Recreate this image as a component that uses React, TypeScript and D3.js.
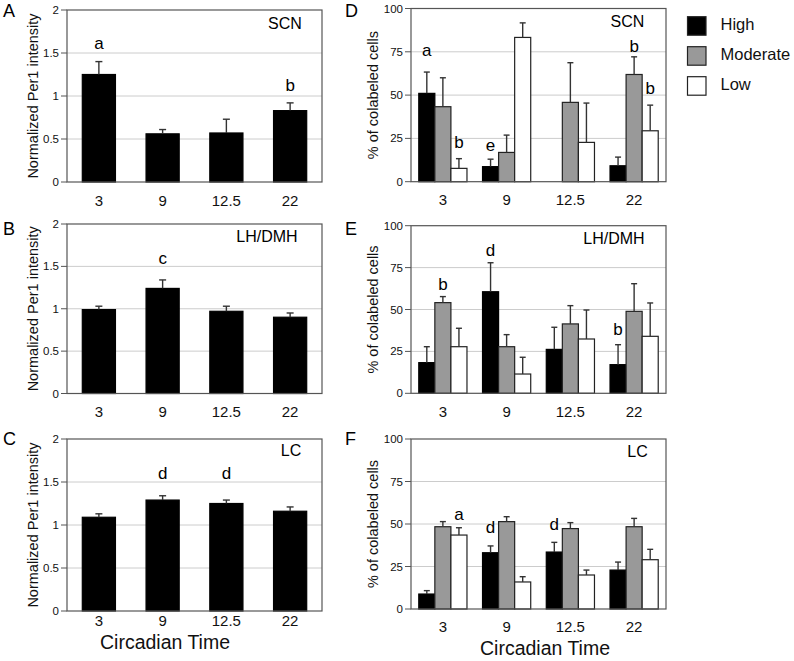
import React from "react";
import * as d3 from "d3";

// ---------- Data ----------
const categories = ["3", "9", "12.5", "22"];
const seriesNames = ["High", "Moderate", "Low"];
const seriesFill = ["#000000", "#999999", "#ffffff"];

// Normalized Per1 intensity (left column)
const per1SCN = [1.25, 0.56, 0.57, 0.83];
const per1SCNErr = [0.15, 0.05, 0.16, 0.09];
const per1LH = [0.99, 1.24, 0.97, 0.9];
const per1LHErr = [0.04, 0.1, 0.06, 0.05];
const per1LC = [1.09, 1.29, 1.25, 1.16];
const per1LCErr = [0.04, 0.05, 0.04, 0.05];

// % of colabeled cells (right column) : [High, Moderate, Low]
const colSCN = [
  [51, 8.7, 0, 9.2],
  [43.3, 16.9, 45.8, 61.9],
  [7.7, 83.3, 22.7, 29.4],
];
const colSCNErr = [
  [12.3, 4.3, 0, 5],
  [16.7, 10, 22.9, 10.2],
  [5.6, 8.4, 22.7, 14.8],
];
const colLH = [
  [18.3, 60.6, 26.2, 17.1],
  [54.1, 27.8, 41.4, 48.9],
  [27.8, 11.5, 32.4, 34],
];
const colLHErr = [
  [9.5, 17.3, 13.2, 11.9],
  [3.6, 7.2, 10.9, 16.5],
  [11, 10, 17.3, 19.9],
];
const colLC = [
  [8.8, 33.1, 33.5, 22.9],
  [48.4, 51.4, 47.3, 48.4],
  [43.5, 15.9, 20, 29],
];
const colLCErr = [
  [2, 4, 5.7, 4.7],
  [3, 2.9, 3.5, 4.9],
  [4.3, 3.1, 2.9, 6.1],
];

// Significance letters: category, series index, letter, baseline value (data units)
const lettersA = [
  { cat: "3", s: 0, letter: "a", at: 1.55 },
  { cat: "22", s: 0, letter: "b", at: 1.06 },
];
const lettersB = [{ cat: "9", s: 0, letter: "c", at: 1.53 }];
const lettersC = [
  { cat: "9", s: 0, letter: "d", at: 1.53 },
  { cat: "12.5", s: 0, letter: "d", at: 1.53 },
];
const lettersD = [
  { cat: "3", s: 0, letter: "a", at: 72.5 },
  { cat: "3", s: 2, letter: "b", at: 19.7 },
  { cat: "9", s: 0, letter: "e", at: 18 },
  { cat: "22", s: 1, letter: "b", at: 74.8 },
  { cat: "22", s: 2, letter: "b", at: 50.6 },
];
const lettersE = [
  { cat: "3", s: 1, letter: "b", at: 61.6 },
  { cat: "9", s: 0, letter: "d", at: 82 },
  { cat: "22", s: 0, letter: "b", at: 34.8 },
];
const lettersF = [
  { cat: "3", s: 2, letter: "a", at: 52.4 },
  { cat: "9", s: 0, letter: "d", at: 45 },
  { cat: "12.5", s: 0, letter: "d", at: 46.2 },
];

const per1Ticks = [0, 0.5, 1, 1.5, 2];
const per1TickLabels = ["0", "0.5", "1", "1.5", "2"];
const colTicks = [0, 25, 50, 75, 100];
const colTickLabels = ["0", "25", "50", "75", "100"];

const FONT = "'Liberation Sans', Arial, Helvetica, sans-serif";

type Letter = { cat: string; s: number; letter: string; at: number };

type PanelProps = {
  panelLetter: string;
  region: string;
  left: number;
  right: number;
  top: number;
  bottom: number;
  yMax: number;
  ticks: number[];
  tickLabels: string[];
  yLabel: string;
  values: number[][];
  errors: number[][];
  fills: string[];
  letters: Letter[];
  grouped: boolean;
  xLabelOffset: number;
  regionX: number;
  regionY: number;
  letterX: number;
  letterY: number;
  yLabelX: number;
};

function Panel(p: PanelProps) {
  const y = d3.scaleLinear().domain([0, p.yMax]).range([p.bottom, p.top]);
  const inner = p.grouped ? 0.244 : 0.48;
  const x = d3
    .scaleBand<string>()
    .domain(categories)
    .range([p.left, p.right])
    .paddingInner(inner)
    .paddingOuter(inner / 2);
  const nS = p.values.length;
  const xs = d3
    .scaleBand<number>()
    .domain(d3.range(nS))
    .range([0, x.bandwidth()]);
  const cap = p.grouped ? 6 : 7;

  return (
    <g>
      {/* gridlines */}
      {p.ticks
        .filter((t) => t > 0 && t < p.yMax)
        .map((t) => (
          <line
            key={"g" + t}
            x1={p.left}
            x2={p.right}
            y1={y(t)}
            y2={y(t)}
            stroke="#cccccc"
            strokeWidth={1}
          />
        ))}
      {/* bars */}
      {p.values.map((ser, si) =>
        ser.map((v, ci) => {
          if (v <= 0) return null;
          const bx = (x(categories[ci]) as number) + (xs(si) as number);
          return (
            <rect
              key={"b" + si + "-" + ci}
              x={bx}
              y={y(v)}
              width={xs.bandwidth()}
              height={p.bottom - y(v)}
              fill={p.fills[si]}
              stroke={p.fills[si] === "#000000" ? "#000" : "#222"}
              strokeWidth={1.2}
            />
          );
        })
      )}
      {/* error bars */}
      {p.values.map((ser, si) =>
        ser.map((v, ci) => {
          const e = p.errors[si][ci];
          if (v <= 0 || e <= 0) return null;
          const cx = (x(categories[ci]) as number) + (xs(si) as number) + xs.bandwidth() / 2;
          return (
            <g key={"e" + si + "-" + ci} stroke="#333" strokeWidth={1.4}>
              <line x1={cx} x2={cx} y1={y(v)} y2={y(v + e)} />
              <line x1={cx - cap / 2} x2={cx + cap / 2} y1={y(v + e)} y2={y(v + e)} />
            </g>
          );
        })
      )}
      {/* frame */}
      <rect
        x={p.left}
        y={p.top}
        width={p.right - p.left}
        height={p.bottom - p.top}
        fill="none"
        stroke="#555"
        strokeWidth={1.2}
      />
      {/* y ticks */}
      {p.ticks.map((t, i) => (
        <g key={"t" + t}>
          <line x1={p.left - 6} x2={p.left} y1={y(t)} y2={y(t)} stroke="#555" strokeWidth={1} />
          <text
            x={p.left - 8}
            y={y(t) + 4}
            textAnchor="end"
            fontSize={11.5}
            fontFamily={FONT}
            fill="#111"
          >
            {p.tickLabels[i]}
          </text>
        </g>
      ))}
      {/* x tick labels */}
      {categories.map((c) => (
        <text
          key={"x" + c}
          x={(x(c) as number) + x.bandwidth() / 2}
          y={p.bottom + p.xLabelOffset}
          textAnchor="middle"
          fontSize={15}
          fontFamily={FONT}
          fill="#111"
        >
          {c}
        </text>
      ))}
      {/* significance letters */}
      {p.letters.map((l, i) => (
        <text
          key={"l" + i}
          x={(x(l.cat) as number) + (xs(l.s) as number) + xs.bandwidth() / 2}
          y={y(l.at)}
          textAnchor="middle"
          fontSize={17}
          fontFamily={FONT}
          fill="#000"
        >
          {l.letter}
        </text>
      ))}
      {/* region label */}
      <text
        x={p.regionX}
        y={p.regionY}
        textAnchor="middle"
        fontSize={16}
        fontFamily={FONT}
        fill="#000"
      >
        {p.region}
      </text>
      {/* panel letter */}
      <text x={p.letterX} y={p.letterY} fontSize={18} fontFamily={FONT} fill="#000">
        {p.panelLetter}
      </text>
      {/* y label */}
      <text
        transform={`translate(${p.yLabelX},${(p.top + p.bottom) / 2}) rotate(-90)`}
        textAnchor="middle"
        fontSize={14.5}
        fontFamily={FONT}
        fill="#111"
      >
        {p.yLabel}
      </text>
    </g>
  );
}

export default function App() {
  const leftCommon = {
    left: 67,
    right: 322,
    yMax: 2,
    ticks: per1Ticks,
    tickLabels: per1TickLabels,
    yLabel: "Normalized Per1 intensity",
    fills: ["#000000"],
    grouped: false,
    letterX: 3,
    yLabelX: 38,
  };
  const rightCommon = {
    left: 411,
    right: 666,
    yMax: 100,
    ticks: colTicks,
    tickLabels: colTickLabels,
    yLabel: "% of colabeled cells",
    fills: seriesFill,
    grouped: true,
    letterX: 345,
    yLabelX: 378,
  };
  return (
    <svg
      width={794}
      height={661}
      style={{ position: "absolute", left: 0, top: 0, background: "#fff" }}
    >
      <rect x={0} y={0} width={794} height={661} fill="#fff" />
      <Panel
        {...leftCommon}
        panelLetter="A"
        region="SCN"
        top={10}
        bottom={182}
        values={[per1SCN]}
        errors={[per1SCNErr]}
        letters={lettersA}
        xLabelOffset={23.5}
        regionX={285}
        regionY={28.7}
        letterY={17}
      />
      <Panel
        {...leftCommon}
        panelLetter="B"
        region="LH/DMH"
        top={224}
        bottom={393.5}
        values={[per1LH]}
        errors={[per1LHErr]}
        letters={lettersB}
        xLabelOffset={23.5}
        regionX={267}
        regionY={242.4}
        letterY={235}
      />
      <Panel
        {...leftCommon}
        panelLetter="C"
        region="LC"
        top={439}
        bottom={611}
        values={[per1LC]}
        errors={[per1LCErr]}
        letters={lettersC}
        xLabelOffset={14.5}
        regionX={291}
        regionY={455.7}
        letterY={445}
      />
      <Panel
        {...rightCommon}
        panelLetter="D"
        region="SCN"
        top={8.5}
        bottom={181.7}
        values={colSCN}
        errors={colSCNErr}
        letters={lettersD}
        xLabelOffset={23.5}
        regionX={627.5}
        regionY={27.4}
        letterY={17}
      />
      <Panel
        {...rightCommon}
        panelLetter="E"
        region="LH/DMH"
        top={225.7}
        bottom={393.3}
        values={colLH}
        errors={colLHErr}
        letters={lettersE}
        xLabelOffset={23.5}
        regionX={614}
        regionY={244}
        letterY={235}
      />
      <Panel
        {...rightCommon}
        panelLetter="F"
        region="LC"
        top={439}
        bottom={609}
        values={colLC}
        errors={colLCErr}
        letters={lettersF}
        xLabelOffset={23}
        regionX={637.5}
        regionY={457.4}
        letterY={445}
      />
      {/* x axis titles */}
      <text x={165} y={648.7} textAnchor="middle" fontSize={19.5} fontFamily={FONT} fill="#111">
        Circadian Time
      </text>
      <text x={545} y={655} textAnchor="middle" fontSize={19.5} fontFamily={FONT} fill="#111">
        Circadian Time
      </text>
      {/* legend */}
      {seriesNames.map((n, i) => (
        <g key={n}>
          <rect
            x={687.5}
            y={16.7 + i * 30}
            width={18.5}
            height={18.5}
            fill={seriesFill[i]}
            stroke="#222"
            strokeWidth={1.2}
          />
          <text x={720.5} y={29.7 + i * 30} fontSize={16.5} fontFamily={FONT} fill="#111">
            {n}
          </text>
        </g>
      ))}
    </svg>
  );
}
